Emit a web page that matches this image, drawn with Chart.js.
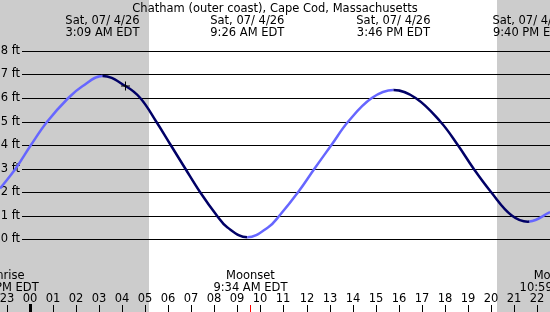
<!DOCTYPE html>
<html>
<head>
<meta charset="utf-8">
<script src="https://cdn.jsdelivr.net/npm/chart.js@4"></script>
<style>
  html, body { margin: 0; padding: 0; background: #fff; }
  #wrap { width: 550px; height: 312px; }
</style>
</head>
<body>
<div id="wrap"><canvas id="tideChart" width="550" height="312"></canvas></div>
<script>
// Station and day
const stationName = 'Chatham (outer coast), Cape Cod, Massachusetts';
const dateLabel = 'Sat, 07/ 4/26';

// Tide curve (hours after midnight, feet)
const tideHours = [-1.29, -0.61, 0.05, 0.76, 1.67, 2.28, 3.15, 4.15, 4.79, 5.48, 6.11, 6.74, 7.38, 8.11, 8.56, 9.43,
                   10.34, 10.83, 11.64, 12.35, 13.08, 13.81, 14.83, 15.77, 16.73, 17.8, 18.56, 19.24, 20.0, 20.9, 21.67, 22.56];
const tideFeet  = [2.15, 3.0, 4.0, 5.0, 6.0, 6.5, 6.94, 6.51, 6.0, 5.0, 4.0, 3.0, 2.0, 1.0, 0.5, 0.07,
                   0.5, 1.0, 2.0, 3.0, 4.0, 5.0, 6.0, 6.34, 6.0, 5.0, 4.0, 3.0, 2.0, 1.0, 0.74, 1.14];

// Highs and lows
const extremeHours = [3.15, 9.433, 15.767, 21.667];
const extremeTimes = ['3:09 AM EDT', '9:26 AM EDT', '3:46 PM EDT', '9:40 PM EDT'];

// Daylight
const sunriseHour = 5.17;
const sunsetHour = 20.28;

// Moon events
const moonHours = [-1.36, 9.567, 22.983];
const moonNames = ['Moonrise', 'Moonset', 'Moonrise'];
const moonTimes = ['10:38 PM EDT', '9:34 AM EDT', '10:59 PM EDT'];

// Current time marker
const nowHours = [4.15];
const nowFeet = [6.51];

// Axis ticks
const hourTicks = [-1, 0, 1, 2, 3, 4, 5, 6, 7, 8, 9, 10, 11, 12, 13, 14, 15, 16, 17, 18, 19, 20, 21, 22];
const hourLabels = ['23', '00', '01', '02', '03', '04', '05', '06', '07', '08', '09', '10', '11',
                    '12', '13', '14', '15', '16', '17', '18', '19', '20', '21', '22'];
const feetTicks = [0, 1, 2, 3, 4, 5, 6, 7, 8];
const feetLabels = ['0 ft', '1 ft', '2 ft', '3 ft', '4 ft', '5 ft', '6 ft', '7 ft', '8 ft'];

const FONT = '11.5px "DejaVu Sans"';
const RISING = '#6666ff';
const FALLING = '#000066';
const NIGHT = '#cccccc';

/**
 * Background, night shading, grid and all text
 */
const tidePlot = {
    id: 'tidePlot',

    beforeDatasetsDraw(chart) {
        const ctx = chart.ctx;
        const x = chart.scales.x;
        const y = chart.scales.y;
        const area = chart.chartArea;

        ctx.save();
        ctx.fillStyle = '#ffffff';
        ctx.fillRect(0, 0, chart.width, chart.height);

        // night
        ctx.fillStyle = NIGHT;
        const sr = Math.round(x.getPixelForValue(sunriseHour));
        const ss = Math.round(x.getPixelForValue(sunsetHour));
        ctx.fillRect(0, 0, sr, chart.height);
        ctx.fillRect(ss, 0, chart.width - ss, chart.height);

        // feet grid
        ctx.strokeStyle = '#000';
        ctx.lineWidth = 1;
        ctx.font = FONT;
        ctx.fillStyle = '#000';
        ctx.textAlign = 'right';
        ctx.textBaseline = 'middle';
        feetTicks.forEach((v, i) => {
            const py = Math.round(y.getPixelForValue(v)) + 0.5;
            ctx.beginPath();
            ctx.moveTo(22, py);
            ctx.lineTo(area.right, py);
            ctx.stroke();
            ctx.fillText(feetLabels[i], 20, py);
        });
        ctx.restore();
    },

    afterDatasetsDraw(chart) {
        const ctx = chart.ctx;
        const x = chart.scales.x;

        ctx.save();
        ctx.font = FONT;
        ctx.fillStyle = '#000';
        ctx.textAlign = 'center';
        ctx.textBaseline = 'alphabetic';

        // title and tide extremes
        ctx.fillText(stationName, chart.width / 2, 11.5);
        extremeHours.forEach((h, i) => {
            const px = x.getPixelForValue(h);
            ctx.fillText(dateLabel, px, 24);
            ctx.fillText(extremeTimes[i], px, 36);
        });

        // moon events
        moonHours.forEach((h, i) => {
            const px = x.getPixelForValue(h);
            ctx.fillText(moonNames[i], px, 279);
            ctx.fillText(moonTimes[i], px, 290.5);
        });

        // hour labels and ticks
        hourTicks.forEach((h, i) => {
            const px = Math.round(x.getPixelForValue(h));
            ctx.fillText(hourLabels[i], px, 301.5);
            if (h === 0) {
                ctx.fillRect(px - 1, 304, 3, 8);
            } else {
                ctx.fillRect(px, 305, 1, 7);
            }
        });

        // moon event ticks
        ctx.fillStyle = '#ff0000';
        moonHours.forEach(h => {
            const px = Math.round(x.getPixelForValue(h));
            ctx.fillRect(px, 305, 1, 7);
        });
        ctx.restore();
    }
};

const tideChart = new Chart(document.getElementById('tideChart'), {
    type: 'line',
    data: {
        datasets: [
            {
                label: 'Now',
                data: nowHours.map((h, i) => ({ x: h, y: nowFeet[i] })),
                showLine: false,
                pointStyle: 'cross',
                pointRadius: 4.5,
                pointBorderColor: '#000',
                pointBorderWidth: 1,
                order: 0
            },
            {
                label: 'Tide',
                data: tideHours.map((h, i) => ({ x: h, y: tideFeet[i] })),
                borderWidth: 2.5,
                pointRadius: 0,
                tension: 0.4,
                fill: false,
                segment: {
                    borderColor: c => c.p1.parsed.y > c.p0.parsed.y ? RISING : FALLING
                },
                order: 1
            }
        ]
    },
    options: {
        responsive: false,
        animation: false,
        events: [],
        layout: { padding: 0, autoPadding: false },
        plugins: {
            legend: { display: false },
            tooltip: { enabled: false },
            title: { display: false }
        },
        scales: {
            x: { type: 'linear', min: -1.292, max: 22.558, display: false },
            y: { type: 'linear', min: -3.106, max: 10.17, display: false }
        }
    },
    plugins: [tidePlot]
});
</script>
</body>
</html>
